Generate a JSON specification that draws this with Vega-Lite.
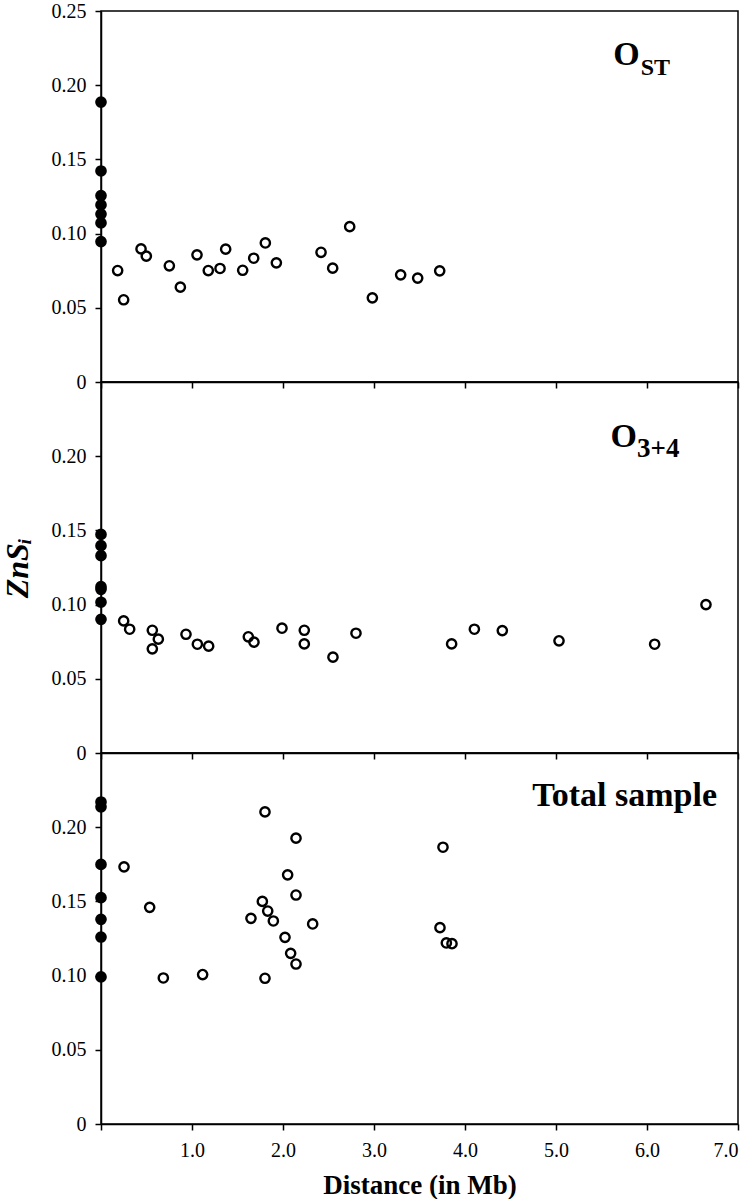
{
  "$schema": "https://vega.github.io/schema/vega-lite/v6.json",
  "background": "white",
  "padding": {"left": 0, "top": 0, "right": 10, "bottom": 0},
  "spacing": 0,
  "bounds": "flush",
  "config": {
    "view": {"stroke": "black", "strokeWidth": 1.5},
    "axis": {
      "domainColor": "black", "domainWidth": 1.5, "tickColor": "black", "tickWidth": 1.5, "tickSize": 6,
      "labelFont": "Liberation Serif", "labelFontSize": 20, "labelColor": "black", "labelPadding": 9,
      "grid": false, "titleFont": "Liberation Serif", "titleColor": "black"
    }
  },
  "datasets": {
    "ost": [
      {"distance": 0, "zns": 0.1886}, {"distance": 0, "zns": 0.1422}, {"distance": 0, "zns": 0.1256}, {"distance": 0, "zns": 0.1193},
      {"distance": 0, "zns": 0.1132}, {"distance": 0, "zns": 0.1072}, {"distance": 0, "zns": 0.0946},
      {"distance": 0.183, "zns": 0.0751}, {"distance": 0.249, "zns": 0.0554}, {"distance": 0.44, "zns": 0.0897}, {"distance": 0.498, "zns": 0.0848},
      {"distance": 0.751, "zns": 0.0783}, {"distance": 0.872, "zns": 0.0639}, {"distance": 1.055, "zns": 0.0857}, {"distance": 1.179, "zns": 0.0751},
      {"distance": 1.308, "zns": 0.0765}, {"distance": 1.37, "zns": 0.0895}, {"distance": 1.557, "zns": 0.0753}, {"distance": 1.678, "zns": 0.0834},
      {"distance": 1.806, "zns": 0.0937}, {"distance": 1.927, "zns": 0.0803}, {"distance": 2.418, "zns": 0.0874}, {"distance": 2.546, "zns": 0.0767},
      {"distance": 2.733, "zns": 0.1047}, {"distance": 2.982, "zns": 0.0567}, {"distance": 3.293, "zns": 0.0722}, {"distance": 3.48, "zns": 0.07},
      {"distance": 3.722, "zns": 0.0749}
    ],
    "o34": [
      {"distance": 0, "zns": 0.1473}, {"distance": 0, "zns": 0.1397}, {"distance": 0, "zns": 0.133}, {"distance": 0, "zns": 0.1121},
      {"distance": 0, "zns": 0.1103}, {"distance": 0, "zns": 0.1016}, {"distance": 0, "zns": 0.0901},
      {"distance": 0.249, "zns": 0.089}, {"distance": 0.315, "zns": 0.0834}, {"distance": 0.564, "zns": 0.0827}, {"distance": 0.63, "zns": 0.0767},
      {"distance": 0.564, "zns": 0.0702}, {"distance": 0.934, "zns": 0.08}, {"distance": 1.059, "zns": 0.0733}, {"distance": 1.183, "zns": 0.072},
      {"distance": 1.619, "zns": 0.0783}, {"distance": 1.681, "zns": 0.0747}, {"distance": 1.989, "zns": 0.0841}, {"distance": 2.234, "zns": 0.0827},
      {"distance": 2.234, "zns": 0.0735}, {"distance": 2.549, "zns": 0.0646}, {"distance": 2.802, "zns": 0.0807}, {"distance": 3.853, "zns": 0.0735},
      {"distance": 4.103, "zns": 0.0834}, {"distance": 4.41, "zns": 0.0825}, {"distance": 5.033, "zns": 0.0756}, {"distance": 6.084, "zns": 0.0733},
      {"distance": 6.648, "zns": 0.1}
    ],
    "total": [
      {"distance": 0, "zns": 0.217}, {"distance": 0, "zns": 0.2137}, {"distance": 0, "zns": 0.1749}, {"distance": 0, "zns": 0.1525},
      {"distance": 0, "zns": 0.1379}, {"distance": 0, "zns": 0.126}, {"distance": 0, "zns": 0.0991},
      {"distance": 0.253, "zns": 0.1733}, {"distance": 0.535, "zns": 0.146}, {"distance": 0.685, "zns": 0.0984}, {"distance": 1.117, "zns": 0.1007},
      {"distance": 1.802, "zns": 0.2103}, {"distance": 2.143, "zns": 0.1926}, {"distance": 2.051, "zns": 0.1679}, {"distance": 2.143, "zns": 0.1543},
      {"distance": 1.773, "zns": 0.15}, {"distance": 1.832, "zns": 0.1435}, {"distance": 1.894, "zns": 0.1368}, {"distance": 1.648, "zns": 0.1386},
      {"distance": 2.326, "zns": 0.1348}, {"distance": 2.022, "zns": 0.1258}, {"distance": 2.084, "zns": 0.115}, {"distance": 2.143, "zns": 0.1078},
      {"distance": 1.802, "zns": 0.0982}, {"distance": 3.758, "zns": 0.1865}, {"distance": 3.725, "zns": 0.1323}, {"distance": 3.795, "zns": 0.122},
      {"distance": 3.857, "zns": 0.1215}
    ]
  },
  "vconcat": [
    {
      "width": 637, "height": 371,
      "layer": [
        {
          "data": {"name": "ost"},
          "mark": {"type": "point", "shape": "circle", "size": 86, "strokeWidth": 2.4, "stroke": "black", "opacity": 1},
          "encoding": {
            "x": {"field": "distance", "type": "quantitative", "scale": {"domain": [0, 7], "nice": false},
                  "axis": {"values": [0, 1, 2, 3, 4, 5, 6, 7], "labels": false, "title": null}},
            "y": {"field": "zns", "type": "quantitative", "scale": {"domain": [0, 0.25], "nice": false},
                  "axis": {"values": [0, 0.05, 0.1, 0.15, 0.2, 0.25], "labelFont": "Liberation Serif", "labelExpr": "datum.value === 0 ? '0' : format(datum.value, '.2f')", "title": null}},
            "fill": {"condition": {"test": "datum.distance === 0", "value": "black"}, "value": "transparent"}
          }
        },
        {
          "data": {"values": [{}]},
          "mark": {"type": "text", "text": "O", "font": "Liberation Serif", "fontWeight": "bold", "fontSize": 34, "align": "left", "baseline": "alphabetic", "color": "black"},
          "encoding": {"x": {"datum": 5.63, "type": "quantitative"}, "y": {"datum": 0.2139, "type": "quantitative"}}
        },
        {
          "data": {"values": [{}]},
          "mark": {"type": "text", "text": "ST", "font": "Liberation Serif", "fontWeight": "bold", "fontSize": 24, "align": "left", "baseline": "alphabetic", "color": "black"},
          "encoding": {"x": {"datum": 5.93, "type": "quantitative"}, "y": {"datum": 0.2071, "type": "quantitative"}}
        }
      ]
    },
    {
      "width": 637, "height": 371,
      "layer": [
        {
          "data": {"name": "o34"},
          "mark": {"type": "point", "shape": "circle", "size": 86, "strokeWidth": 2.4, "stroke": "black", "opacity": 1},
          "encoding": {
            "x": {"field": "distance", "type": "quantitative", "scale": {"domain": [0, 7], "nice": false},
                  "axis": {"values": [0, 1, 2, 3, 4, 5, 6, 7], "labels": false, "title": null}},
            "y": {"field": "zns", "type": "quantitative", "scale": {"domain": [0, 0.25], "nice": false},
                  "axis": {"values": [0, 0.05, 0.1, 0.15, 0.2], "labelFont": "Liberation Serif", "labelExpr": "datum.value === 0 ? '0' : format(datum.value, '.2f')",
                           "title": "ZnSᵢ", "titleFont": "Liberation Serif", "titleFontSize": 32, "titleFontWeight": "bold", "titleFontStyle": "italic", "titlePadding": 17}},
            "fill": {"condition": {"test": "datum.distance === 0", "value": "black"}, "value": "transparent"}
          }
        },
        {
          "data": {"values": [{}]},
          "mark": {"type": "text", "text": "O", "font": "Liberation Serif", "fontWeight": "bold", "fontSize": 34, "align": "left", "baseline": "alphabetic", "color": "black"},
          "encoding": {"x": {"datum": 5.6, "type": "quantitative"}, "y": {"datum": 0.2063, "type": "quantitative"}}
        },
        {
          "data": {"values": [{}]},
          "mark": {"type": "text", "text": "3+4", "font": "Liberation Serif", "fontWeight": "bold", "fontSize": 27, "align": "left", "baseline": "alphabetic", "color": "black"},
          "encoding": {"x": {"datum": 5.89, "type": "quantitative"}, "y": {"datum": 0.1995, "type": "quantitative"}}
        }
      ]
    },
    {
      "width": 637, "height": 371,
      "layer": [
        {
          "data": {"name": "total"},
          "mark": {"type": "point", "shape": "circle", "size": 86, "strokeWidth": 2.4, "stroke": "black", "opacity": 1},
          "encoding": {
            "x": {"field": "distance", "type": "quantitative", "scale": {"domain": [0, 7], "nice": false},
                  "axis": {"values": [0, 1, 2, 3, 4, 5, 6, 7], "labelFont": "Liberation Serif", "labelExpr": "datum.value === 0 ? '' : format(datum.value, '.1f')", "labelPadding": 10, "title": "Distance (in Mb)",
                           "titleFont": "Liberation Serif", "titleFontSize": 27, "titleFontWeight": "bold", "titlePadding": 12}},
            "y": {"field": "zns", "type": "quantitative", "scale": {"domain": [0, 0.25], "nice": false},
                  "axis": {"values": [0, 0.05, 0.1, 0.15, 0.2], "labelFont": "Liberation Serif", "labelExpr": "datum.value === 0 ? '0' : format(datum.value, '.2f')", "title": null}},
            "fill": {"condition": {"test": "datum.distance === 0", "value": "black"}, "value": "transparent"}
          }
        },
        {
          "data": {"values": [{}]},
          "mark": {"type": "text", "text": "Total sample", "font": "Liberation Serif", "fontWeight": "bold", "fontSize": 34, "align": "right", "baseline": "alphabetic", "color": "black"},
          "encoding": {"x": {"datum": 6.77, "type": "quantitative"}, "y": {"datum": 0.214, "type": "quantitative"}}
        }
      ]
    }
  ]
}
